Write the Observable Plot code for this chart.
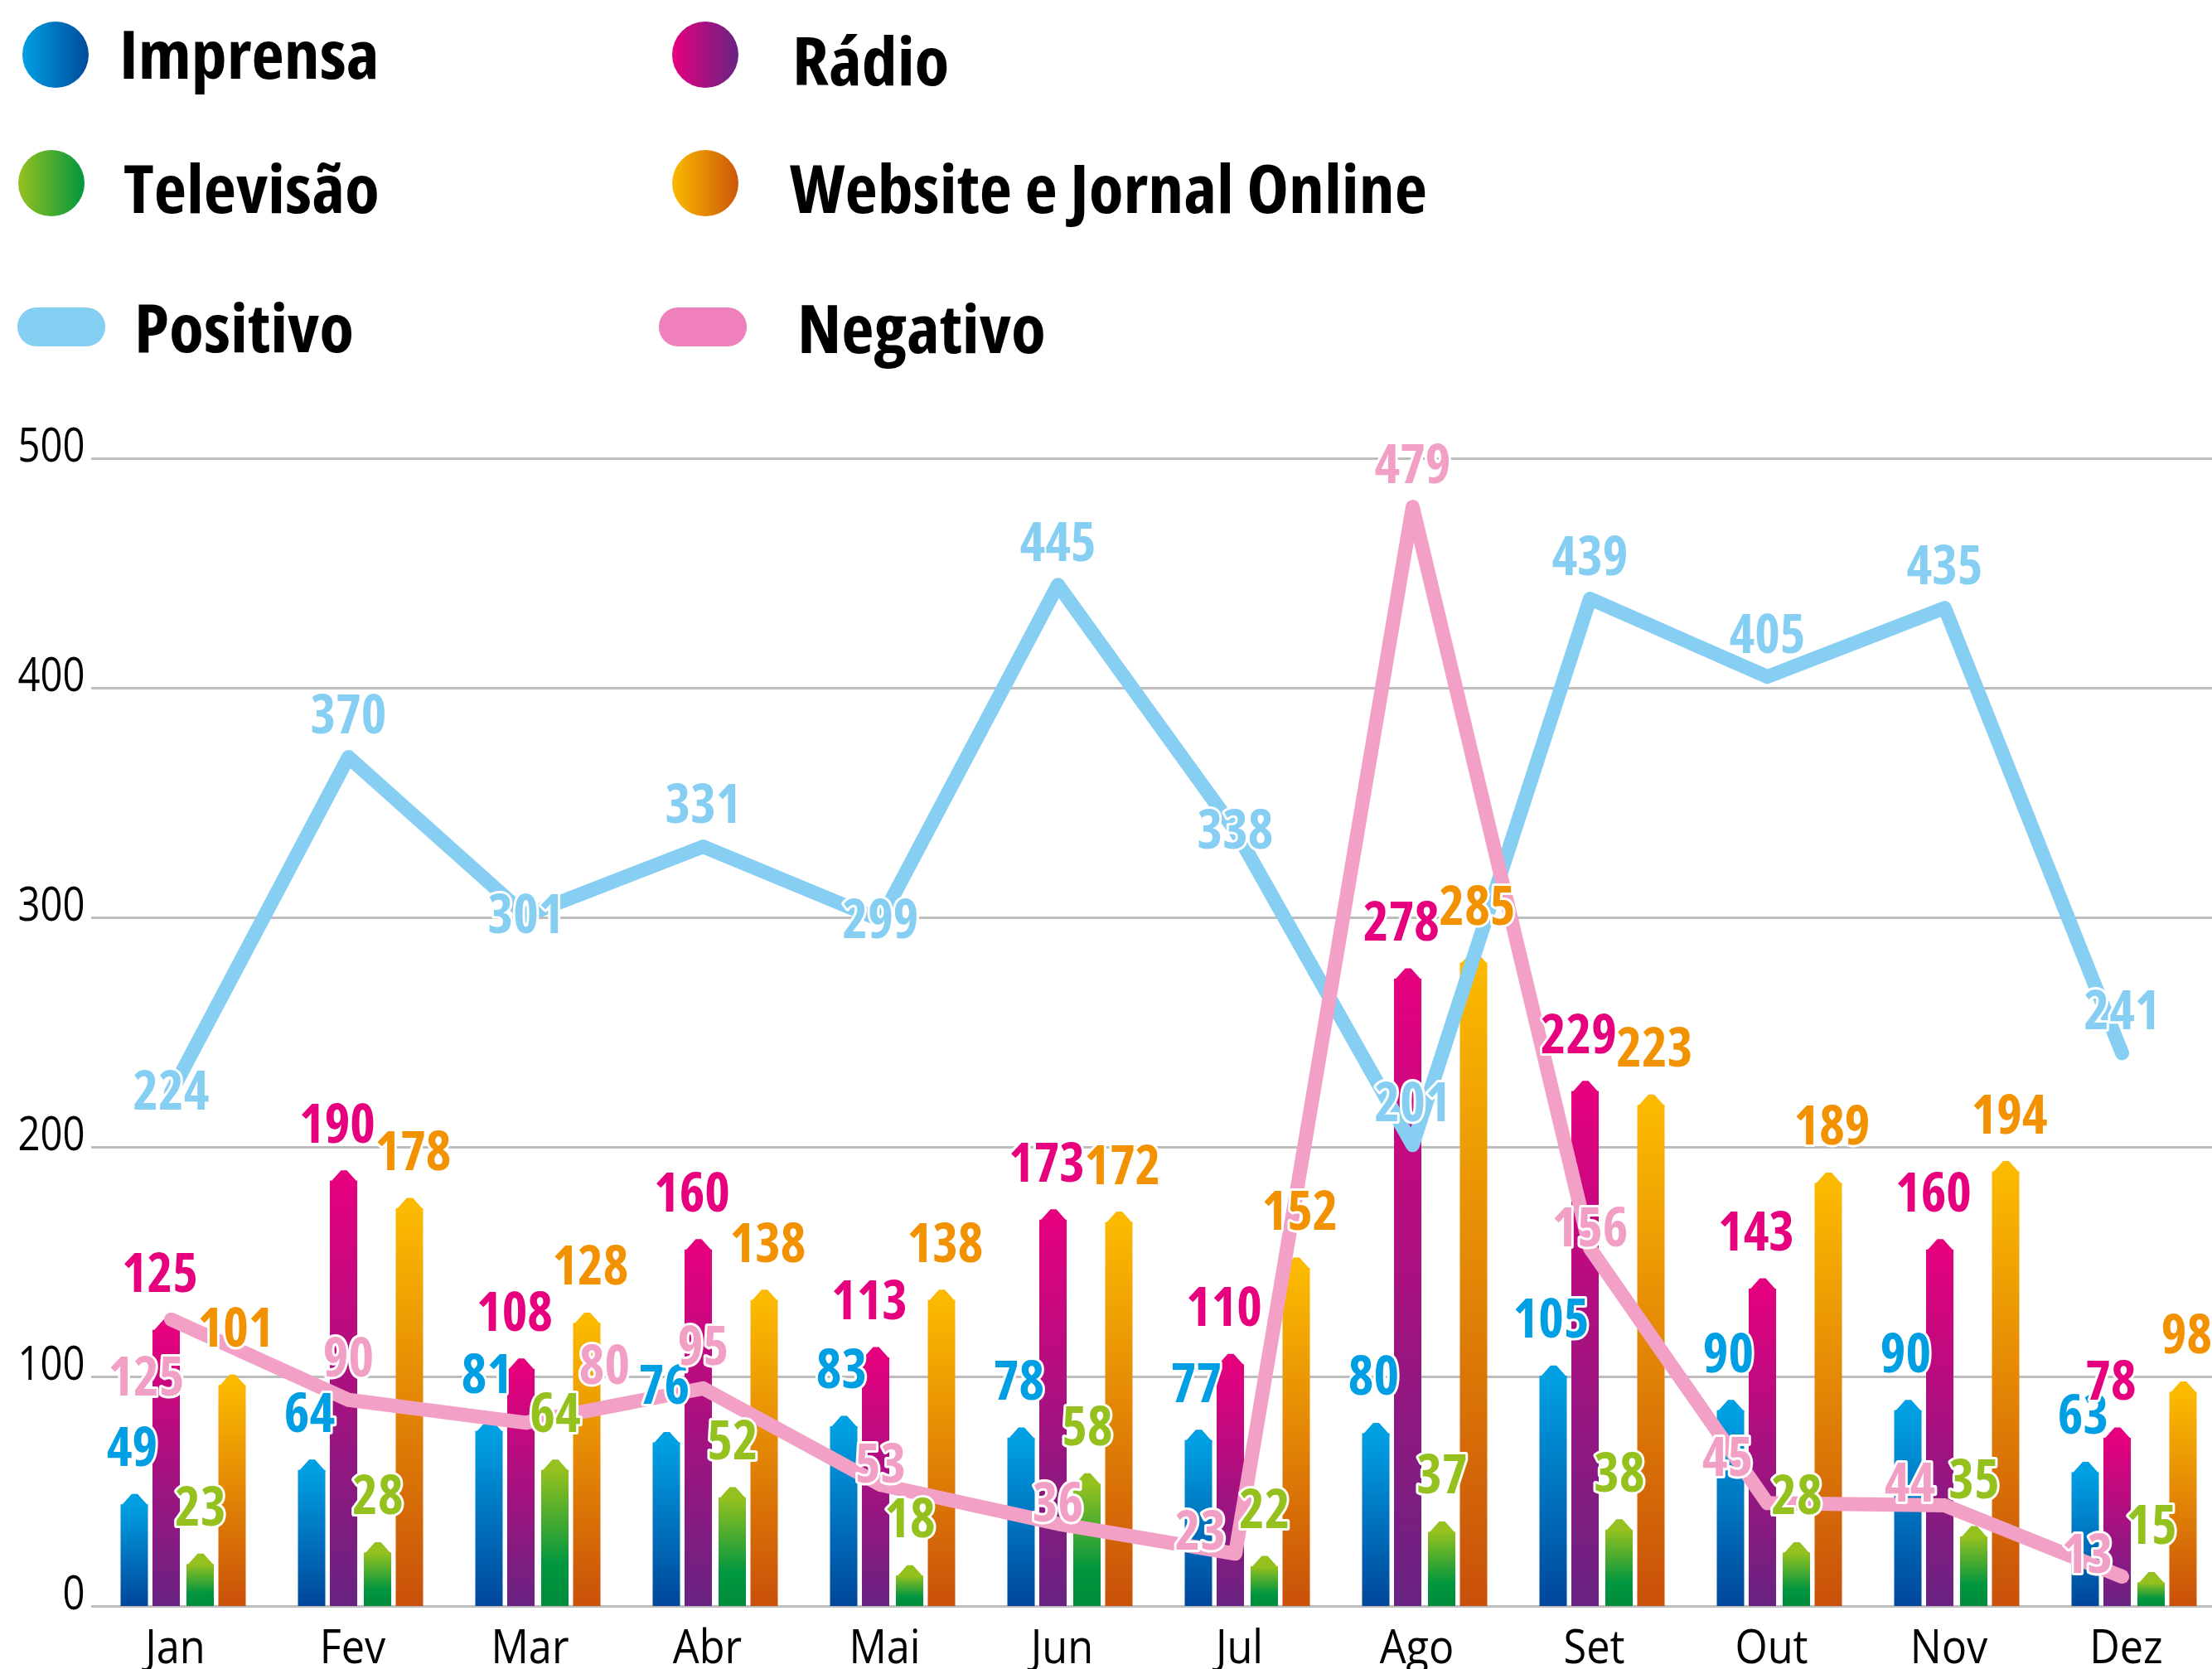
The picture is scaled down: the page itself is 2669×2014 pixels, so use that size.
<!DOCTYPE html>
<html>
<head>
<meta charset="utf-8">
<script src="https://cdn.jsdelivr.net/npm/d3@7"></script>
<script src="https://cdn.jsdelivr.net/npm/@observablehq/plot@0.6"></script>
<style>
  body { margin: 0; background: #fff; }
  #legend { position: relative; width: 2669px; height: 470px;
    font-family: "Open Sans", "Noto Sans", sans-serif; font-stretch: 75%; font-weight: bold; }
  .sw { position: absolute; }
  .lt { position: absolute; font-size: 80px; line-height: 80px; white-space: nowrap; color: #000; transform-origin: 0 50%; }
  #chart svg { display: block; font-stretch: 75%; }
  #chart text[aria-label='months'], #chart text[aria-label='y-ticks'] { font-stretch: 100%; font-weight: normal; }
</style>
</head>
<body>
<div id="legend"></div>
<div id="chart"></div>
<script>
// ---- data ----
const months = ["Jan","Fev","Mar","Abr","Mai","Jun","Jul","Ago","Set","Out","Nov","Dez"];
const imprensa  = [49, 64, 81, 76, 83, 78, 77, 80, 105, 90, 90, 63];
const radio     = [125, 190, 108, 160, 113, 173, 110, 278, 229, 143, 160, 78];
const televisao = [23, 28, 64, 52, 18, 58, 22, 37, 38, 28, 35, 15];
const website   = [101, 178, 128, 138, 138, 172, 152, 285, 223, 189, 194, 98];
const positivo  = [224, 370, 301, 331, 299, 445, 338, 201, 439, 405, 435, 241];
const negativo  = [125, 90, 80, 95, 53, 36, 23, 479, 156, 45, 44, 13];
const yTicks = [0, 100, 200, 300, 400, 500];

// label placement keywords for the line annotations
const positivoPlace = ["on","above","on","above","on","above","on","above","above","above","above","above"];
const negativoPlace = ["belowLeft","above","aboveRight","above","near","near","nearLeft","above","near","aboveLeft","nearLeft","nearLeft"];
const placeOffsets = {
  on: {dx: 0, dy: 0}, near: {dx: 0, dy: -24}, above: {dx: 0, dy: -50},
  nearLeft: {dx: -42, dy: -26}, aboveLeft: {dx: -48, dy: -54},
  aboveRight: {dx: 95, dy: -68}, belowLeft: {dx: -30, dy: 70}
};

// ---- series styling ----
const bars = [
  {id: "imp", name: "Imprensa", values: imprensa, off: -59, ldx: -3, top: "#00A0E3", label: "#009FE3",
   stops: [[0, "#00A0E3"], [1, "#00469A"]], legend: ["#009FE3", "#004B9A"]},
  {id: "rad", name: "Rádio", values: radio, off: -20.5, ldx: -8, top: "#E5007E", label: "#E6007E",
   stops: [[0, "#E5007E"], [1, "#682382"]], legend: ["#E6007E", "#662483"]},
  {id: "tv", name: "Televisão", values: televisao, off: 20.5, ldx: 0, top: "#95C11F", label: "#95C11F",
   stops: [[0, "#95C11F"], [0.7, "#009640"], [1, "#008C3A"]], legend: ["#95C11F", "#009640"]},
  {id: "web", name: "Website e Jornal Online", values: website, off: 59, ldx: 4, top: "#FBBA00", label: "#F39200",
   stops: [[0, "#FBBA00"], [1, "#C9500A"]], legend: ["#FBBA00", "#CC560A"]}
];
const lines = [
  {name: "Positivo", values: positivo, place: positivoPlace, stroke: "#86CFF3", label: "#86CFF3", legend: "#85CFF2"},
  {name: "Negativo", values: negativo, place: negativoPlace, stroke: "#F2A0C6", label: "#F29FC5", legend: "#F080BC"}
];

// ---- legend (HTML) ----
const legendLayout = [
  {kind: "circle", left: 27, top: 26, tx: 144, base: 94},
  {kind: "circle", left: 811, top: 26, tx: 956, base: 102},
  {kind: "circle", left: 22, top: 181, tx: 149, base: 256},
  {kind: "circle", left: 811, top: 181, tx: 953, base: 256},
  {kind: "pill", left: 21, top: 371, tx: 162, base: 424},
  {kind: "pill", left: 795, top: 371, tx: 962, base: 425}
];
const legendItems = [
  ...bars.map(b => ({name: b.name, bg: `linear-gradient(to right, ${b.legend[0]}, ${b.legend[1]})`})),
  ...lines.map(l => ({name: l.name, bg: l.legend}))
];
const legend = document.getElementById("legend");
const legendTexts = [];
legendItems.forEach((it, i) => {
  const L = legendLayout[i];
  const sw = document.createElement("div");
  sw.className = "sw";
  sw.style.left = L.left + "px"; sw.style.top = L.top + "px";
  if (L.kind === "circle") { sw.style.width = "80px"; sw.style.height = "80px"; sw.style.borderRadius = "50%"; }
  else { sw.style.width = "106px"; sw.style.height = "47px"; sw.style.borderRadius = "23px"; }
  sw.style.background = it.bg;
  legend.appendChild(sw);
  const t = document.createElement("div");
  t.className = "lt";
  t.textContent = it.name;
  t.style.left = L.tx + "px";
  t.style.top = (L.base - 70) + "px";
  legend.appendChild(t);
  legendTexts.push(t);
});
// condense legend text to the reference's narrow width
{
  const ref = legendTexts[3];
  const k = 769 / ref.getBoundingClientRect().width;
  legendTexts.forEach(t => { t.style.transform = `scaleX(${k})`; });
}

// ---- chart ----
const font = "'Open Sans', 'Noto Sans', sans-serif";
const rowsOf = vals => months.map((m, i) => ({month: m, value: vals[i], i}));
const half = 107, bw = 16.5;
const cap = {draw(ctx) { ctx.moveTo(-bw, 14.5); ctx.lineTo(-3.5, 0); ctx.lineTo(3.5, 0); ctx.lineTo(bw, 14.5); ctx.closePath(); }};
const lineDx = -15;
const halo = {stroke: "white", strokeWidth: 6, strokeLinejoin: "round", paintOrder: "stroke"};
const tag = name => () => name;

const marks = [
  Plot.ruleY(yTicks, {stroke: "#BDBDBD", strokeWidth: 3}),
  ...bars.map(s => Plot.barY(rowsOf(s.values), {
    x: "month", y: "value", fill: `url(#g-${s.id})`,
    insetLeft: half + s.off - bw, insetRight: half - s.off - bw, insetTop: 13
  })),
  ...bars.map(s => Plot.dot(rowsOf(s.values), {
    x: "month", y: "value", dx: s.off, symbol: cap, r: 5, fill: s.top, stroke: "none"
  })),
  ...lines.map(l => Plot.lineY(rowsOf(l.values), {
    x: "month", y: "value", dx: lineDx, stroke: l.stroke, strokeWidth: 17,
    strokeLinejoin: "round", strokeLinecap: "round"
  })),
  ...bars.map(s => Plot.text(rowsOf(s.values), {
    x: "month", y: "value", dx: s.off + s.ldx, dy: -55, text: d => String(d.value),
    fill: s.label, fontSize: 67, fontWeight: "bold", ariaLabel: tag("value-labels"), ...halo
  })),
  ...lines.flatMap(l => Object.keys(placeOffsets).map(k => Plot.text(rowsOf(l.values), {
    filter: d => l.place[d.i] === k,
    x: "month", y: "value", dx: lineDx + placeOffsets[k].dx, dy: placeOffsets[k].dy,
    text: d => String(d.value), fill: l.label, fontSize: 67, fontWeight: "bold",
    ariaLabel: tag("value-labels"), ...halo
  }))),
  Plot.text(yTicks, {
    y: d => d, text: d => String(d), frameAnchor: "left", textAnchor: "end",
    dx: -8, dy: -14, fontSize: 56, fill: "#000", ariaLabel: tag("y-ticks")
  }),
  Plot.text(months, {
    x: d => d, text: d => d, frameAnchor: "bottom", lineAnchor: "bottom",
    dx: -10, dy: 68, fontSize: 57, fill: "#000", ariaLabel: tag("months")
  })
];

const svg = Plot.plot({
  width: 2669, height: 1544,
  marginTop: 83, marginBottom: 76, marginLeft: 110, marginRight: 0,
  x: {type: "band", domain: months, range: [114, 2682], padding: 0, axis: null},
  y: {domain: [0, 500], axis: null},
  style: {fontFamily: font, fontStretch: "75%", background: "white", overflow: "visible"},
  marks
});

const defs = d3.select(svg).insert("defs", ":first-child");
bars.forEach(s => {
  const g = defs.append("linearGradient").attr("id", "g-" + s.id)
    .attr("x1", 0).attr("y1", 0).attr("x2", 0).attr("y2", 1);
  s.stops.forEach(([o, c]) => g.append("stop").attr("offset", o).attr("stop-color", c));
});

document.getElementById("chart").appendChild(svg);

// condense SVG texts horizontally to the reference's narrow face
function squeeze(el, k) {
  const x = +el.getAttribute("x") || 0;
  const t = el.getAttribute("transform") || "";
  el.setAttribute("transform", `${t} translate(${x},0) scale(${k},1) translate(${-x},0)`);
}
function condenseGroup(label, sampleText, target) {
  const texts = [...svg.querySelectorAll(`text[aria-label='${label}']`)];
  if (!texts.length) return;
  const sample = texts.find(t => t.textContent === sampleText) || texts[0];
  const w = sample.getBBox().width;
  if (!(w > 0)) return;
  const k = Math.max(0.6, Math.min(1.25, target / w));
  texts.forEach(t => squeeze(t, k));
}
condenseGroup("value-labels", "125", 92);
condenseGroup("y-ticks", "500", 81);
condenseGroup("months", "Fev", 80);
</script>
</body>
</html>
